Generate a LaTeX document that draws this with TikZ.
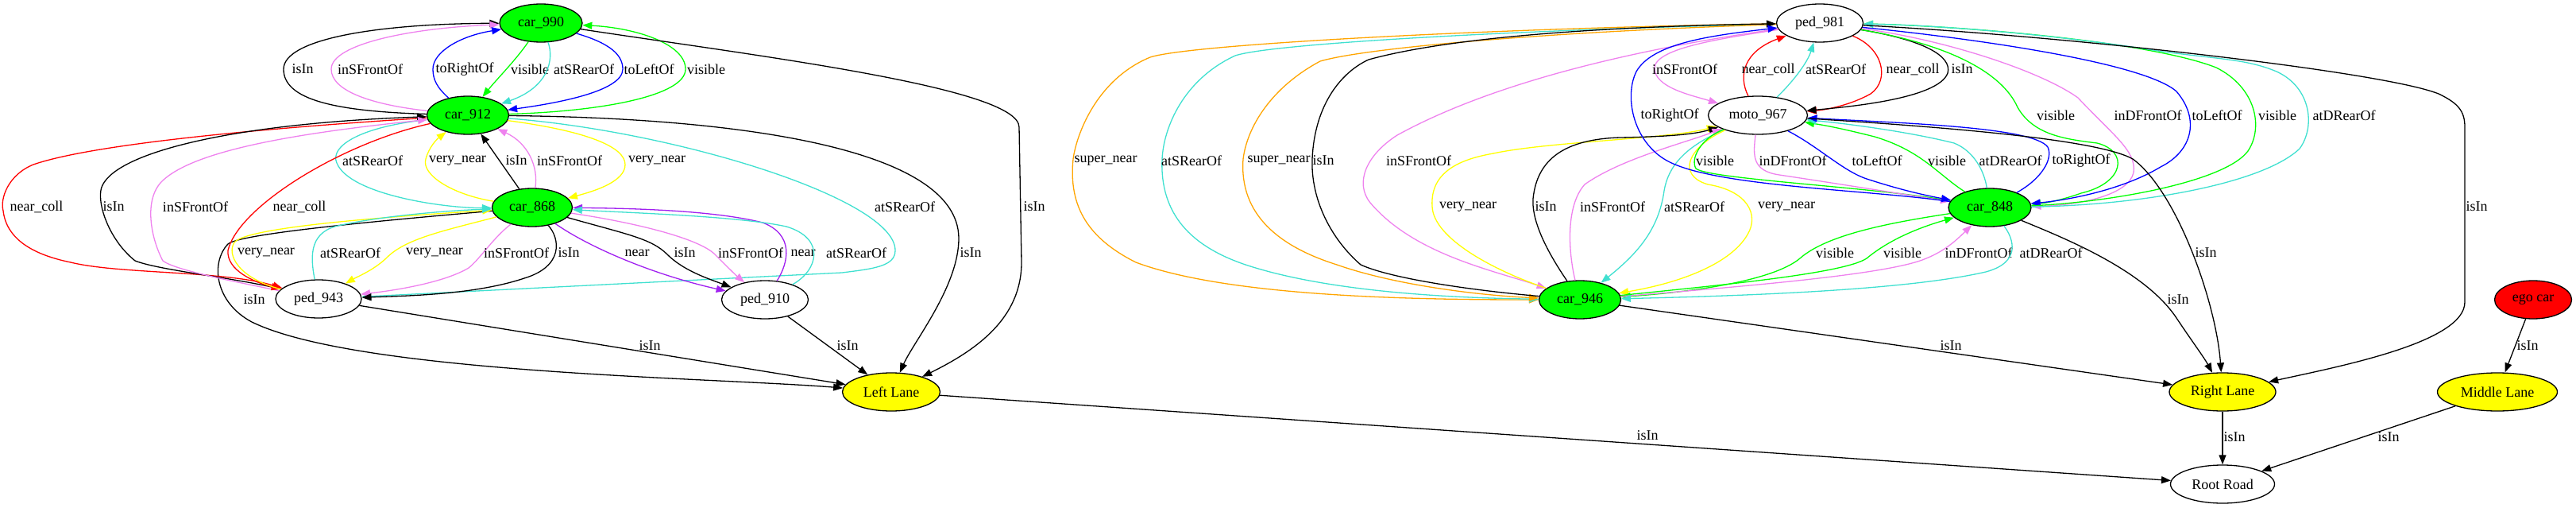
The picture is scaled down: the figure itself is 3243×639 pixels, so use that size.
\documentclass[tikz,border=0pt]{standalone}
\usepackage{fontspec}
\setmainfont{Liberation Serif}
\usetikzlibrary{arrows.meta,shapes.geometric}

\definecolor{gvgreen}{HTML}{00FF00}
\definecolor{gvyellow}{HTML}{FFFF00}
\definecolor{gvred}{HTML}{FF0000}
\definecolor{gvblue}{HTML}{0000FF}
\definecolor{gvturq}{HTML}{40E0D0}
\definecolor{gvviolet}{HTML}{EE82EE}
\definecolor{gvpurple}{HTML}{A020F0}
\definecolor{gvorange}{HTML}{FFA500}

\newcommand\gvfont{\fontsize{18}{20}\selectfont}

\tikzset{
  obj/.style={ellipse, draw, line width=1.3pt, minimum width=104pt, minimum height=48pt, inner sep=0pt, font=\gvfont},
  car/.style={obj, fill=gvgreen},
  lane/.style={obj, fill=gvyellow},
  rel/.style={-{Triangle[length=12pt,width=9pt]}, line width=1.3pt},
  lbl/.style={inner sep=0pt, font=\gvfont}
}

\begin{document}
\begin{tikzpicture}[x=1pt,y=-1pt]
\useasboundingbox (0,0) rectangle (3243,639);

% left group
\node[car] (c990) at (681,29) {car\_990};
\node[car, minimum width=103pt] (c912) at (589,145) {car\_912};
\node[car, minimum width=101pt] (c868) at (670,261) {car\_868};
\node[obj, minimum width=108pt] (p943) at (401,376) {ped\_943};
\node[obj, minimum width=109pt] (p910) at (963,377) {ped\_910};
\node[lane, minimum width=123pt] (ll) at (1122,493) {Left Lane};

% right group
\node[obj, minimum width=109pt] (p981) at (2291,29) {ped\_981};
\node[obj, minimum width=125pt] (m967) at (2213,145) {moto\_967};
\node[car] (c848) at (2505,261) {car\_848};
\node[car, minimum width=103pt] (c946) at (1989,377) {car\_946};
\node[lane, minimum width=134pt] (rl) at (2798,493) {Right Lane};
\node[obj, minimum width=97pt, fill=gvred] (ego) at (3189,377) {ego car};
\node[lane, minimum width=151pt] (ml) at (3144,493) {Middle Lane};
\node[obj, minimum width=131pt] (rr) at (2798,609) {Root Road};

% car_990 and car_912
\draw[rel] (c912) .. controls (420,140) and (357,125) .. (357,87) .. controls (357,50) and (470,30) .. (c990) node[lbl] at (381,87) {isIn};
\draw[rel,gvviolet] (c912) .. controls (470,132) and (417,115) .. (417,87) .. controls (417,55) and (520,35) .. (c990) node[lbl,black] at (466,87) {inSFrontOf};
\draw[rel,gvblue] (c912) .. controls (550,110) and (545,100) .. (545,87) .. controls (545,65) and (580,45) .. (c990) node[lbl,black] at (585,87) {toRightOf};
\draw[rel,gvgreen] (c990) .. controls (650,75) and (625,100) .. (c912) node[lbl,black] at (667,87) {visible};
\draw[rel,gvturq] (c990) .. controls (698,75) and (690,110) .. (c912) node[lbl,black] at (735,87) {atSRearOf};
\draw[rel,gvblue] (c990) .. controls (770,55) and (784,70) .. (784,87) .. controls (784,115) and (700,130) .. (c912) node[lbl,black] at (817,87) {toLeftOf};
\draw[rel,gvgreen] (c912) .. controls (760,140) and (863,120) .. (863,87) .. controls (863,55) and (800,35) .. (c990) node[lbl,black] at (889,87) {visible};

% to Left Lane
\draw[rel] (c990) .. controls (950,70) and (1283,110) .. (1283,160) -- (1286,330) .. controls (1286,400) and (1230,440) .. (ll) node[lbl] at (1302,260) {isIn};
\draw[rel] (c912) .. controls (900,148) and (1207,180) .. (1207,300) .. controls (1207,360) and (1150,430) .. (ll) node[lbl] at (1222,318) {isIn};
\draw[rel] (c868) .. controls (450,280) and (300,295) .. (287,307) .. controls (265,330) and (270,380) .. (317,405) .. controls (450,470) and (900,475) .. (ll) node[lbl] at (320,377) {isIn};
\draw[rel] (p943) -- (ll) node[lbl] at (818,435) {isIn};
\draw[rel] (p910) -- (ll) node[lbl] at (1067,435) {isIn};

% car_912 and car_868
\draw[rel,gvturq] (c912) .. controls (450,160) and (415,185) .. (424,205) .. controls (440,245) and (560,262) .. (c868) node[lbl,black] at (469,202) {atSRearOf};
\draw[rel,gvyellow] (c868) .. controls (570,245) and (530,220) .. (536,200) .. controls (540,185) and (550,175) .. (c912) node[lbl,black] at (576,202) {very\_near};
\draw[rel] (c868) -- (c912) node[lbl] at (650,202) {isIn};
\draw[rel,gvviolet] (c868) .. controls (678,210) and (665,180) .. (c912) node[lbl,black] at (717,202) {inSFrontOf};
\draw[rel,gvyellow] (c912) .. controls (740,165) and (787,185) .. (787,207) .. controls (787,228) and (750,240) .. (c868) node[lbl,black] at (827,202) {very\_near};

% car_912 and ped_943
\draw[rel,gvred] (c912) .. controls (350,160) and (120,180) .. (42,207) .. controls (10,220) and (0,250) .. (4,265) .. controls (8,300) and (40,320) .. (89,330) .. controls (150,345) and (280,340) .. (p943) node[lbl,black] at (46,260) {near\_coll};
\draw[rel] (p943) .. controls (300,350) and (200,340) .. (170,328) .. controls (135,300) and (120,250) .. (129,233) .. controls (150,190) and (300,155) .. (c912) node[lbl] at (143,260) {isIn};
\draw[rel,gvviolet] (p943) .. controls (300,355) and (220,340) .. (205,328) .. controls (190,300) and (180,250) .. (205,227) .. controls (250,185) and (400,165) .. (c912) node[lbl,black] at (246,260) {inSFrontOf};
\draw[rel,gvred] (c912) .. controls (430,180) and (300,260) .. (287,315) .. controls (285,340) and (320,355) .. (p943) node[lbl,black] at (377,260) {near\_coll};
\draw[rel,gvturq] (c912) .. controls (850,165) and (1127,250) .. (1127,315) .. controls (1127,335) and (1100,338) .. (1060,343) -- (p943) node[lbl,black] at (1139,260) {atSRearOf};

% car_868 and ped_943
\draw[rel,gvyellow] (p943) .. controls (300,350) and (285,320) .. (295,305) .. controls (310,285) and (500,272) .. (c868) node[lbl,black] at (335,318) {very\_near};
\draw[rel,gvturq] (p943) .. controls (390,320) and (390,290) .. (430,283) .. controls (480,272) and (560,265) .. (c868) node[lbl,black] at (441,318) {atSRearOf};
\draw[rel,gvyellow] (c868) .. controls (560,290) and (510,300) .. (486,325) .. controls (470,340) and (450,348) .. (p943) node[lbl,black] at (547,318) {very\_near};
\draw[rel,gvviolet] (c868) .. controls (620,300) and (605,325) .. (590,337) .. controls (560,355) and (500,365) .. (p943) node[lbl,black] at (650,318) {inSFrontOf};
\draw[rel] (c868) .. controls (705,300) and (710,335) .. (660,350) .. controls (600,370) and (520,372) .. (p943) node[lbl] at (716,318) {isIn};

% car_868 and ped_910
\draw[rel,gvpurple] (c868) .. controls (740,310) and (820,345) .. (p910) node[lbl,black] at (802,318) {near};
\draw[rel] (c868) .. controls (790,295) and (820,300) .. (840,320) .. controls (860,340) and (890,350) .. (p910) node[lbl] at (862,318) {isIn};
\draw[rel,gvviolet] (c868) .. controls (800,280) and (880,300) .. (900,320) .. controls (915,335) and (925,345) .. (p910) node[lbl,black] at (945,318) {inSFrontOf};
\draw[rel,gvpurple] (p910) .. controls (993,330) and (1000,295) .. (960,280) .. controls (900,265) and (800,262) .. (c868) node[lbl,black] at (1011,318) {near};
\draw[rel,gvturq] (p910) .. controls (1030,340) and (1040,300) .. (990,285) .. controls (930,272) and (800,268) .. (c868) node[lbl,black] at (1078,318) {atSRearOf};

% ped_981 and car_946
\draw[rel,gvorange] (p981) .. controls (1900,35) and (1500,55) .. (1448,72) .. controls (1380,100) and (1355,170) .. (1351,200) .. controls (1345,260) and (1370,300) .. (1430,330) .. controls (1550,375) and (1800,377) .. (c946) node[lbl,black] at (1392,202) {super\_near};
\draw[rel,gvturq] (p981) .. controls (1900,38) and (1600,55) .. (1555,70) .. controls (1490,100) and (1465,160) .. (1463,200) .. controls (1460,270) and (1500,310) .. (1568,333) .. controls (1680,370) and (1850,375) .. (c946) node[lbl,black] at (1500,202) {atSRearOf};
\draw[rel,gvorange] (p981) .. controls (1950,40) and (1720,60) .. (1662,77) .. controls (1600,110) and (1570,160) .. (1565,200) .. controls (1560,270) and (1610,310) .. (1683,333) .. controls (1760,360) and (1870,372) .. (c946) node[lbl,black] at (1610,202) {super\_near};
\draw[rel] (c946) .. controls (1850,365) and (1750,350) .. (1713,333) .. controls (1675,300) and (1650,250) .. (1652,200) .. controls (1655,130) and (1690,90) .. (1723,75) .. controls (1850,40) and (2100,32) .. (p981) node[lbl] at (1666,202) {isIn};
\draw[rel,gvviolet] (p981) .. controls (2000,70) and (1850,120) .. (1759,170) .. controls (1720,195) and (1705,230) .. (1725,255) .. controls (1780,320) and (1880,340) .. (c946) node[lbl,black] at (1786,202) {inSFrontOf};

% moto_967 and car_946
\draw[rel,gvyellow] (c946) .. controls (1880,340) and (1805,300) .. (1803,260) .. controls (1800,215) and (1840,200) .. (1880,193) .. controls (1950,178) and (2100,175) .. (m967) node[lbl,black] at (1848,260) {very\_near};
\draw[rel] (c946) .. controls (1950,320) and (1928,280) .. (1930,250) .. controls (1935,200) and (1970,175) .. (2040,173) .. controls (2090,172) and (2130,170) .. (m967) node[lbl] at (1946,260) {isIn};
\draw[rel,gvviolet] (c946) .. controls (1975,320) and (1970,260) .. (1995,232) .. controls (2040,200) and (2120,180) .. (m967) node[lbl,black] at (2030,260) {inSFrontOf};
\draw[rel,gvturq] (m967) .. controls (2120,185) and (2100,210) .. (2095,240) .. controls (2088,290) and (2060,320) .. (c946) node[lbl,black] at (2133,260) {atSRearOf};
\draw[rel,gvyellow] (m967) .. controls (2125,185) and (2110,220) .. (2150,232) .. controls (2200,240) and (2215,270) .. (2200,295) .. controls (2180,330) and (2120,355) .. (c946) node[lbl,black] at (2249,260) {very\_near};

% moto_967 and car_848
\draw[rel,gvgreen] (m967) .. controls (2140,175) and (2128,200) .. (2135,212) .. controls (2150,225) and (2350,235) .. (c848) node[lbl,black] at (2159,202) {visible};
\draw[rel,gvviolet] (m967) .. controls (2207,195) and (2205,215) .. (2240,220) .. controls (2320,232) and (2400,245) .. (c848) node[lbl,black] at (2257,202) {inDFrontOf};
\draw[rel,gvblue] (m967) .. controls (2290,185) and (2320,215) .. (2350,225) .. controls (2390,238) and (2420,245) .. (c848) node[lbl,black] at (2363,202) {toLeftOf};
\draw[rel,gvgreen] (c848) .. controls (2440,220) and (2420,190) .. (2360,172) .. controls (2320,162) and (2300,158) .. (m967) node[lbl,black] at (2451,202) {visible};
\draw[rel,gvturq] (c848) .. controls (2498,215) and (2485,190) .. (2460,180) .. controls (2400,165) and (2320,155) .. (m967) node[lbl,black] at (2531,202) {atDRearOf};
\draw[rel,gvblue] (c848) .. controls (2570,225) and (2585,200) .. (2578,185) .. controls (2560,160) and (2400,155) .. (m967) node[lbl,black] at (2620,202) {toRightOf};

% ped_981 and moto_967
\draw[rel,gvviolet] (p981) .. controls (2170,48) and (2085,60) .. (2083,85) .. controls (2082,110) and (2130,120) .. (m967) node[lbl,black] at (2121,87) {inSFrontOf};
\draw[rel,gvred] (m967) .. controls (2188,95) and (2195,65) .. (p981) node[lbl,black] at (2226,87) {near\_coll};
\draw[rel,gvturq] (m967) .. controls (2255,105) and (2275,80) .. (p981) node[lbl,black] at (2311,87) {atSRearOf};
\draw[rel,gvred] (p981) .. controls (2370,60) and (2380,100) .. (2355,118) .. controls (2330,132) and (2300,138) .. (m967) node[lbl,black] at (2408,87) {near\_coll};
\draw[rel] (p981) .. controls (2420,50) and (2458,70) .. (2452,92) .. controls (2440,125) and (2320,135) .. (m967) node[lbl] at (2470,87) {isIn};

% ped_981 and car_848
\draw[rel,gvblue] (c848) .. controls (2350,238) and (2150,235) .. (2095,200) .. controls (2055,175) and (2045,120) .. (2060,90) .. controls (2080,55) and (2150,45) .. (p981) node[lbl,black] at (2102,145) {toRightOf};
\draw[rel,gvgreen] (p981) .. controls (2450,55) and (2520,90) .. (2540,135) .. controls (2560,170) and (2600,175) .. (2640,180) .. controls (2680,190) and (2675,230) .. (2620,243) .. controls (2600,250) and (2580,255) .. (c848) node[lbl,black] at (2588,145) {visible};
\draw[rel,gvviolet] (p981) .. controls (2450,50) and (2570,90) .. (2616,123) .. controls (2660,170) and (2690,190) .. (2686,217) .. controls (2680,245) and (2620,258) .. (c848) node[lbl,black] at (2704,145) {inDFrontOf};
\draw[rel,gvblue] (p981) .. controls (2500,50) and (2700,80) .. (2740,115) .. controls (2770,150) and (2760,190) .. (2720,210) .. controls (2670,240) and (2600,252) .. (c848) node[lbl,black] at (2791,145) {toLeftOf};
\draw[rel,gvgreen] (c848) .. controls (2650,255) and (2800,230) .. (2830,190) .. controls (2850,160) and (2840,110) .. (2790,85) .. controls (2700,50) and (2450,32) .. (p981) node[lbl,black] at (2867,145) {visible};
\draw[rel,gvturq] (c848) .. controls (2700,258) and (2850,230) .. (2895,187) .. controls (2915,160) and (2910,110) .. (2866,90) .. controls (2830,75) and (2800,75) .. (2723,65) .. controls (2600,45) and (2450,32) .. (p981) node[lbl,black] at (2951,145) {atDRearOf};

% car_848 and car_946
\draw[rel,gvgreen] (c848) .. controls (2380,280) and (2300,295) .. (2266,325) .. controls (2230,355) and (2120,368) .. (c946) node[lbl,black] at (2310,318) {visible};
\draw[rel,gvgreen] (c946) .. controls (2150,360) and (2320,345) .. (2350,325) .. controls (2380,300) and (2420,285) .. (c848) node[lbl,black] at (2395,318) {visible};
\draw[rel,gvviolet] (c946) .. controls (2200,360) and (2380,345) .. (2425,325) .. controls (2450,315) and (2465,300) .. (c848) node[lbl,black] at (2491,318) {inDFrontOf};
\draw[rel,gvturq] (c848) .. controls (2535,300) and (2545,330) .. (2500,342) .. controls (2400,365) and (2200,372) .. (c946) node[lbl,black] at (2582,318) {atDRearOf};

% to Right Lane and the road
\draw[rel] (m967) .. controls (2450,160) and (2640,175) .. (2685,200) .. controls (2740,240) and (2790,380) .. (rl) node[lbl] at (2777,318) {isIn};
\draw[rel] (p981) .. controls (2600,45) and (3000,90) .. (3070,118) .. controls (3095,130) and (3103,140) .. (3103,160) -- (3103,380) .. controls (3103,430) and (2950,460) .. (rl) node[lbl] at (3118,260) {isIn};
\draw[rel] (c848) .. controls (2600,300) and (2700,340) .. (2740,400) .. controls (2760,430) and (2775,450) .. (rl) node[lbl] at (2742,377) {isIn};
\draw[rel] (c946) -- (rl) node[lbl] at (2456,435) {isIn};
\draw[rel] (ego) -- (ml) node[lbl] at (3182,435) {isIn};
\draw[rel] (ll) -- (rr) node[lbl] at (2074,548) {isIn};
\draw[rel] (rl) -- (rr) node[lbl] at (2813,550) {isIn};
\draw[rel] (ml) -- (rr) node[lbl] at (3007,550) {isIn};

\end{tikzpicture}
\end{document}
